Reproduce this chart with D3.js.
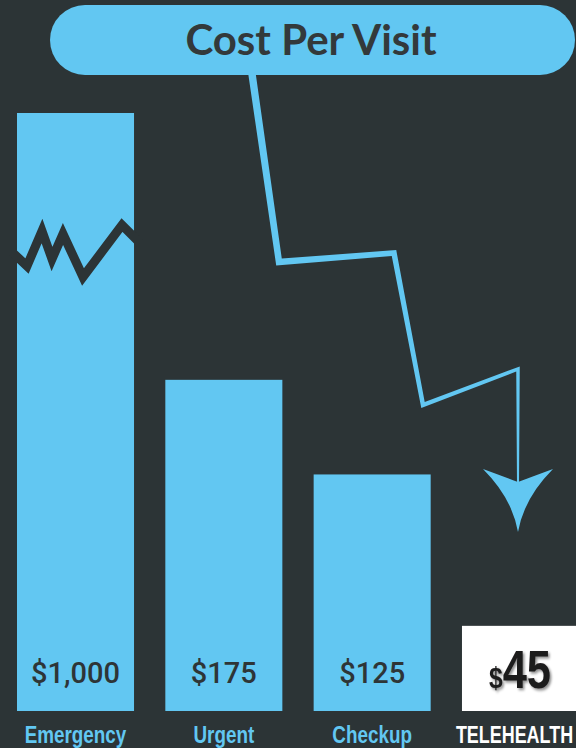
<!DOCTYPE html>
<html>
<head>
<meta charset="utf-8">
<script src="https://cdn.jsdelivr.net/npm/d3@7"></script>
<style>
  html, body { margin: 0; padding: 0; background: #2c3436; }
  svg { display: block; }
</style>
</head>
<body>
<div id="chart"></div>
<script>
// data
var categories = ["Emergency", "Urgent", "Checkup", "TELEHEALTH"];
var costs = [1000, 175, 125, 45];
var costLabels = ["$1,000", "$175", "$125", "45"];
var titleText = "Cost Per Visit";

var width = 576, height = 748;
var bg = "#2c3436", blue = "#62c7f2", dark = "#2e3537";
var narrow = 0.82; // no narrow font installed, squeeze instead

var svg = d3.select("#chart").append("svg")
  .attr("width", width)
  .attr("height", height);

svg.append("rect").attr("width", width).attr("height", height).attr("fill", bg);

// shadow for the telehealth price
var defs = svg.append("defs");
var f = defs.append("filter").attr("id", "shadow")
  .attr("x", "-20%").attr("y", "-20%").attr("width", "150%").attr("height", "150%");
f.append("feDropShadow").attr("dx", 2).attr("dy", 2).attr("stdDeviation", 1.6)
  .attr("flood-color", "#000").attr("flood-opacity", 0.45);

// scales -- emergency is off the chart, so the y scale clamps
var x = d3.scaleBand().domain(categories).range([17, 579]).paddingInner(0.211).paddingOuter(0);
var y = d3.scaleLinear().domain([0, 316]).range([711, 113]).clamp(true);

// bars
svg.selectAll("rect.bar")
  .data(categories)
  .enter()
  .append("rect")
    .attr("class", "bar")
    .attr("x", function(d) { return x(d); })
    .attr("width", x.bandwidth())
    .attr("y", function(d, i) { return y(costs[i]); })
    .attr("height", function(d, i) { return y(0) - y(costs[i]); })
    .attr("fill", function(d, i) { return i == 3 ? "#ffffff" : blue; });

// zigzag break on the emergency bar (decoration)
var brk = [[12, 252], [27, 266], [42, 231], [52, 259], [63, 234], [83, 277], [122, 225], [140, 243]];
svg.append("path")
  .attr("d", d3.line()(brk))
  .attr("fill", "none")
  .attr("stroke", bg)
  .attr("stroke-width", 9)
  .attr("stroke-linejoin", "miter")
  .attr("stroke-miterlimit", 10);

// value labels
svg.selectAll("text.val")
  .data(categories.slice(0, 3))
  .enter()
  .append("text")
    .attr("class", "val")
    .attr("x", function(d) { return x(d) + x.bandwidth() / 2; })
    .attr("y", 683)
    .attr("text-anchor", "middle")
    .attr("font-family", "Roboto")
    .attr("font-weight", 500)
    .attr("font-size", 29)
    .attr("fill", dark)
    .text(function(d, i) { return costLabels[i]; });

var tele = svg.append("text")
  .attr("transform", "translate(" + (x(categories[3]) + 58) + ",688) scale(" + narrow + ",1)")
  .attr("text-anchor", "middle")
  .attr("font-family", "Liberation Sans, Arial")
  .attr("font-weight", "bold")
  .attr("fill", "#1e1c1d")
  .attr("filter", "url(#shadow)");
tele.append("tspan").attr("font-size", 30).text("$");
tele.append("tspan").attr("font-size", 53).text(costLabels[3]);

// category labels
svg.selectAll("text.cat")
  .data(categories)
  .enter()
  .append("text")
    .attr("class", "cat")
    .attr("transform", function(d, i) {
      var cx = x(d) + x.bandwidth() / 2 + (i == 3 ? -6 : 0);
      var sx = i == 3 ? 0.78 : narrow;
      return "translate(" + cx + ",743) scale(" + sx + ",1)";
    })
    .attr("text-anchor", "middle")
    .attr("font-family", "Liberation Sans, Arial")
    .attr("font-weight", "bold")
    .attr("font-size", 23)
    .attr("fill", function(d, i) { return i == 3 ? "#ffffff" : blue; })
    .text(function(d) { return d; });

// tapering arrow from the title down to telehealth (decoration)
var arrowPts = [[250, 60], [279, 262], [394, 253], [423, 405], [518, 369], [518, 486]];
var arrowW = [7.5, 6.5, 5.5, 4.5, 3.5, 2];

function segN(a, b) {
  var dx = b[0] - a[0], dy = b[1] - a[1], l = Math.sqrt(dx * dx + dy * dy);
  return [-dy / l, dx / l];
}

function taper(pts, ws) {
  var left = [], right = [];
  for (var i = 0; i < pts.length; i++) {
    var n, h = ws[i] / 2;
    if (i == 0) { n = segN(pts[0], pts[1]); }
    else if (i == pts.length - 1) { n = segN(pts[i - 1], pts[i]); }
    else {
      var n1 = segN(pts[i - 1], pts[i]), n2 = segN(pts[i], pts[i + 1]);
      var m = [n1[0] + n2[0], n1[1] + n2[1]];
      var ml = Math.sqrt(m[0] * m[0] + m[1] * m[1]);
      m = [m[0] / ml, m[1] / ml];
      n = m; h = h / (m[0] * n1[0] + m[1] * n1[1]);
    }
    left.push([pts[i][0] + n[0] * h, pts[i][1] + n[1] * h]);
    right.push([pts[i][0] - n[0] * h, pts[i][1] - n[1] * h]);
  }
  return left.concat(right.reverse());
}

svg.append("path")
  .attr("d", d3.line()(taper(arrowPts, arrowW)) + "Z")
  .attr("fill", blue);

// arrow head
svg.append("path")
  .attr("d", "M483,469 Q502,476 518,482 Q534,476 553,469 Q524,498 518,532 Q512,498 483,469 Z")
  .attr("fill", blue);

// title pill
svg.append("rect")
  .attr("x", 50).attr("y", 5)
  .attr("width", 525).attr("height", 70)
  .attr("rx", 35).attr("ry", 35)
  .attr("fill", blue);

svg.append("text")
  .attr("x", 311)
  .attr("y", 55)
  .attr("text-anchor", "middle")
  .attr("font-family", "Lato")
  .attr("font-weight", "bold")
  .attr("font-size", 42)
  .attr("fill", "#33393b")
  .text(titleText);
</script>
</body>
</html>
